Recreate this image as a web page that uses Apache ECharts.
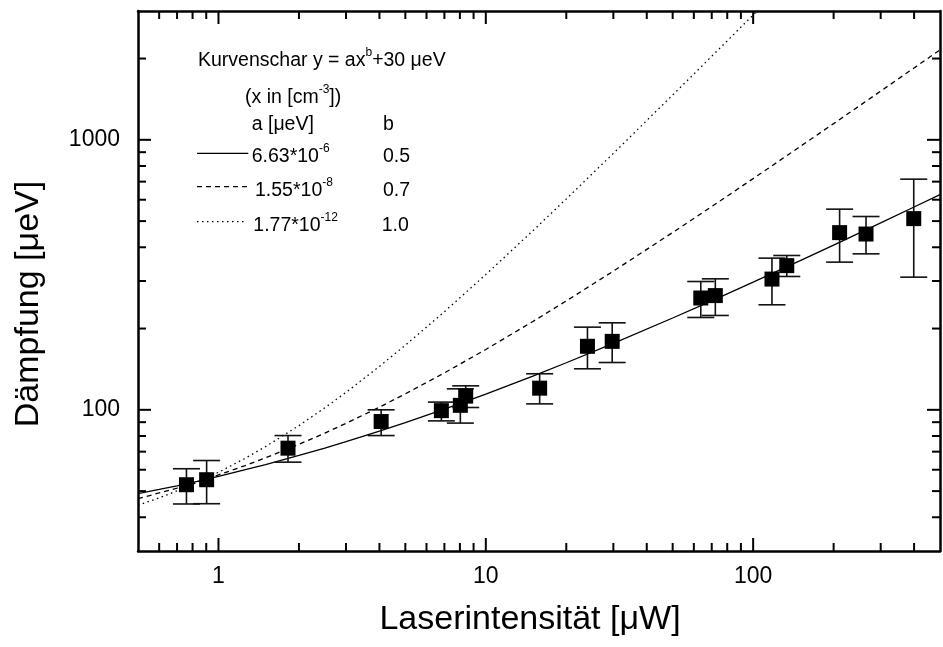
<!DOCTYPE html>
<html>
<head>
<meta charset="utf-8">
<script src="https://cdn.jsdelivr.net/npm/echarts@6/dist/echarts.min.js"></script>
<style>
html, body { margin: 0; padding: 0; background: #fff; }
#chart { width: 943px; height: 647px; }
</style>
</head>
<body>
<div id="chart"></div>
<script>
// Measured damping vs. laser intensity (µW)
const intensity   = [0.759, 0.903, 1.82, 4.06, 6.82, 8.03, 8.41, 15.9, 24.0, 29.7, 63.7, 72.2, 117.6, 133.6, 210.6, 264.4, 398.8];
const damping     = [52.8, 55.1, 72.1, 90.5, 99.3, 103.9, 112.4, 120.3, 171.9, 179.3, 259.5, 264.9, 305, 342, 453.2, 447.8, 510.7];
const dampingHigh = [60.5, 64.9, 80.3, 100, 106.8, 119.6, 122.7, 136, 202.4, 210, 298.7, 305.6, 364.6, 372.9, 553.6, 520, 715];
const dampingLow  = [44.8, 44.9, 64.0, 80.3, 91.0, 89.3, 102.0, 105.2, 141.9, 149.7, 219.8, 223.6, 244.9, 311.8, 352.4, 378.2, 310];

// Family of curves y = a x^b + 30 µeV, tabulated over laser intensity
const curveX    = [0.5, 0.6, 0.7, 0.85, 1, 1.25, 1.5, 2, 2.5, 3, 4, 5, 7, 10, 15, 20, 30, 50, 70, 100, 150, 200, 300, 400, 500];
const curveB05  = [48.9, 50.7, 52.3, 54.6, 56.7, 59.9, 62.7, 67.8, 72.2, 76.2, 83.4, 89.7, 100.6, 114.4, 133.4, 149.4, 176.2, 218.8, 253.4, 297, 357, 407.6, 492.5, 564, 627];
const curveB07  = [46.9, 49.2, 51.3, 54.5, 57.4, 62.0, 66.4, 74.5, 82.0, 89.1, 102.3, 114.6, 137, 167.3, 212.4, 253.1, 326.3, 453.6, 566.2, 718.3, 944.6, 1147.9, 1515, 1846.4, 2153];
const curveB10X = [0.5, 0.6, 0.7, 0.85, 1, 1.25, 1.5, 2, 2.5, 3, 4, 5, 7, 10, 15, 20, 30, 50, 70, 100, 110];
const curveB10  = [44.35, 47.2, 50.1, 54.4, 58.7, 65.9, 73.05, 87.4, 101.75, 116.1, 144.8, 173.5, 230.9, 317, 460.5, 604, 891, 1465, 2039, 2900, 3187];

// Axis ranges and tick positions
const xRange = [0.5, 500];
const yRange = [30, 3000];
const xMajorTicks = [1, 10, 100];
const xMinorTicks = [0.6, 0.7, 0.8, 0.9, 2, 3, 4, 5, 6, 7, 8, 9, 20, 30, 40, 50, 60, 70, 80, 90, 200, 300, 400];
const yMajorTicks = [100, 1000];
const yMinorTicks = [40, 50, 60, 70, 80, 90, 200, 300, 400, 500, 600, 700, 800, 900, 2000];

const FONT = '"Liberation Sans", Arial, Helvetica, sans-serif';

const zip = (xs, ys) => xs.map((x, i) => [x, ys[i]]);
const isDecade = v => Math.abs(Math.log10(v) - Math.round(Math.log10(v))) < 1e-6;

const chart = echarts.init(document.getElementById('chart'), null, { renderer: 'canvas' });

const baseAxis = {
  type: 'log',
  logBase: 10,
  axisLine: { show: true, lineStyle: { color: '#000', width: 2.5 } },
  axisTick: { show: false },
  minorTick: { show: false },
  splitLine: { show: false },
  axisLabel: { show: false }
};

// Inward tick marks on all four frame sides, placed through the axis scales
function renderTicks(params, api) {
  const cs = params.coordSys;
  const left = cs.x, right = cs.x + cs.width, top = cs.y, bottom = cs.y + cs.height;
  const st = { stroke: '#000', lineWidth: 2 };
  const out = [];
  const addX = (v, len) => {
    const px = api.coord([v, 100])[0];
    out.push({ type: 'line', shape: { x1: px, y1: bottom, x2: px, y2: bottom - len }, style: st });
    out.push({ type: 'line', shape: { x1: px, y1: top, x2: px, y2: top + len }, style: st });
  };
  const addY = (v, len) => {
    const py = api.coord([1, v])[1];
    out.push({ type: 'line', shape: { x1: left, y1: py, x2: left + len, y2: py }, style: st });
    out.push({ type: 'line', shape: { x1: right, y1: py, x2: right - len, y2: py }, style: st });
  };
  xMajorTicks.forEach(v => addX(v, 13));
  xMinorTicks.forEach(v => addX(v, 8));
  yMajorTicks.forEach(v => addY(v, 13));
  yMinorTicks.forEach(v => addY(v, 8));
  return { type: 'group', children: out };
}

// Vertical error bars with caps
function renderErrorBar(params, api) {
  const x = api.value(0);
  const lo = api.coord([x, api.value(1)]);
  const hi = api.coord([x, api.value(2)]);
  const cap = 13.5;
  const st = { stroke: '#111', lineWidth: 1.6 };
  return {
    type: 'group',
    children: [
      { type: 'line', shape: { x1: lo[0], y1: lo[1], x2: hi[0], y2: hi[1] }, style: st },
      { type: 'line', shape: { x1: hi[0] - cap, y1: hi[1], x2: hi[0] + cap, y2: hi[1] }, style: st },
      { type: 'line', shape: { x1: lo[0] - cap, y1: lo[1], x2: lo[0] + cap, y2: lo[1] }, style: st }
    ]
  };
}

const legendRich = {
  n: { fontSize: 19.5, fontFamily: FONT, color: '#000', lineHeight: 24, verticalAlign: 'bottom' },
  s: { fontSize: 12, fontFamily: FONT, color: '#000', lineHeight: 14, verticalAlign: 'top' }
};
const legendText = (x, y, text) => ({
  type: 'text', x, y,
  style: { text, rich: legendRich, fontSize: 19.5, fontFamily: FONT, fill: '#000', verticalAlign: 'middle', align: 'left' }
});
const legendLine = (y, x2, dash) => ({
  type: 'line',
  shape: { x1: 197, y1: y, x2, y2: y },
  style: { stroke: '#000', lineWidth: 1.3, lineDash: dash }
});

const option = {
  backgroundColor: '#fff',
  animation: false,
  grid: { left: 138, top: 11, width: 810, height: 540, containLabel: false },
  xAxis: [
    Object.assign({}, baseAxis, {
      min: xRange[0], max: xRange[1], position: 'bottom',
      axisLabel: {
        show: true, margin: 14, color: '#000', fontSize: 23, fontFamily: FONT,
        formatter: v => isDecade(v) ? String(Math.round(v * 1000) / 1000) : ''
      },
      name: 'Laserintensität [μW]',
      nameLocation: 'middle',
      nameGap: 52,
      nameTextStyle: { color: '#000', fontSize: 34, fontFamily: FONT, padding: [0, 18, 0, 0] }
    }),
    Object.assign({}, baseAxis, { min: xRange[0], max: xRange[1], position: 'top' })
  ],
  yAxis: [
    Object.assign({}, baseAxis, {
      min: yRange[0], max: yRange[1], position: 'left',
      axisLabel: {
        show: true, margin: 18, color: '#000', fontSize: 23, fontFamily: FONT,
        formatter: v => isDecade(v) ? String(Math.round(v)) : ''
      },
      name: 'Dämpfung [μeV]',
      nameLocation: 'middle',
      nameGap: 92,
      nameTextStyle: { color: '#000', fontSize: 34, fontFamily: FONT, padding: [0, 46, 0, 0] }
    }),
    Object.assign({}, baseAxis, { min: yRange[0], max: yRange[1], position: 'right' })
  ],
  series: [
    {
      name: 'b = 0.5', type: 'line', data: zip(curveX, curveB05),
      showSymbol: false, silent: true, z: 2,
      lineStyle: { color: '#000', width: 1.3, type: 'solid' }
    },
    {
      name: 'b = 0.7', type: 'line', data: zip(curveX, curveB07),
      showSymbol: false, silent: true, z: 2,
      lineStyle: { color: '#000', width: 1.3, type: [5, 4] }
    },
    {
      name: 'b = 1.0', type: 'line', data: zip(curveB10X, curveB10),
      showSymbol: false, silent: true, z: 2,
      lineStyle: { color: '#000', width: 1.3, type: [1.5, 3.5] }
    },
    {
      name: 'Fehler', type: 'custom', renderItem: renderErrorBar, silent: true, z: 3,
      encode: { x: 0, y: [1, 2] },
      data: intensity.map((x, i) => [x, dampingLow[i], dampingHigh[i]])
    },
    {
      name: 'Dämpfung', type: 'scatter', data: zip(intensity, damping),
      symbol: 'rect', symbolSize: 15, silent: true, z: 4,
      itemStyle: { color: '#000', opacity: 1 }
    },
    {
      name: 'Ticks', type: 'custom', renderItem: renderTicks, silent: true, z: 5, clip: false,
      data: [[1, 100]]
    }
  ],
  graphic: [
    legendText(198, 58.5, '{n|Kurvenschar y = ax}{s|b}{n|+30 μeV}'),
    legendText(245, 95.5, '{n|(x in [cm}{s|-3}{n|])}'),
    legendText(251.7, 123, '{n|a [μeV]}'),
    legendText(383, 123, '{n|b}'),
    legendLine(153.3, 248.3, null),
    legendText(251.7, 154.5, '{n|6.63*10}{s|-6}'),
    legendText(383, 154.5, '{n|0.5}'),
    legendLine(186.7, 250.7, [5, 4]),
    legendText(255, 188.8, '{n|1.55*10}{s|-8}'),
    legendText(383, 188.8, '{n|0.7}'),
    legendLine(221.7, 247, [1.5, 3.5]),
    legendText(253.3, 223.8, '{n|1.77*10}{s|-12}'),
    legendText(381.7, 223.8, '{n|1.0}')
  ]
};

chart.setOption(option);
</script>
</body>
</html>
